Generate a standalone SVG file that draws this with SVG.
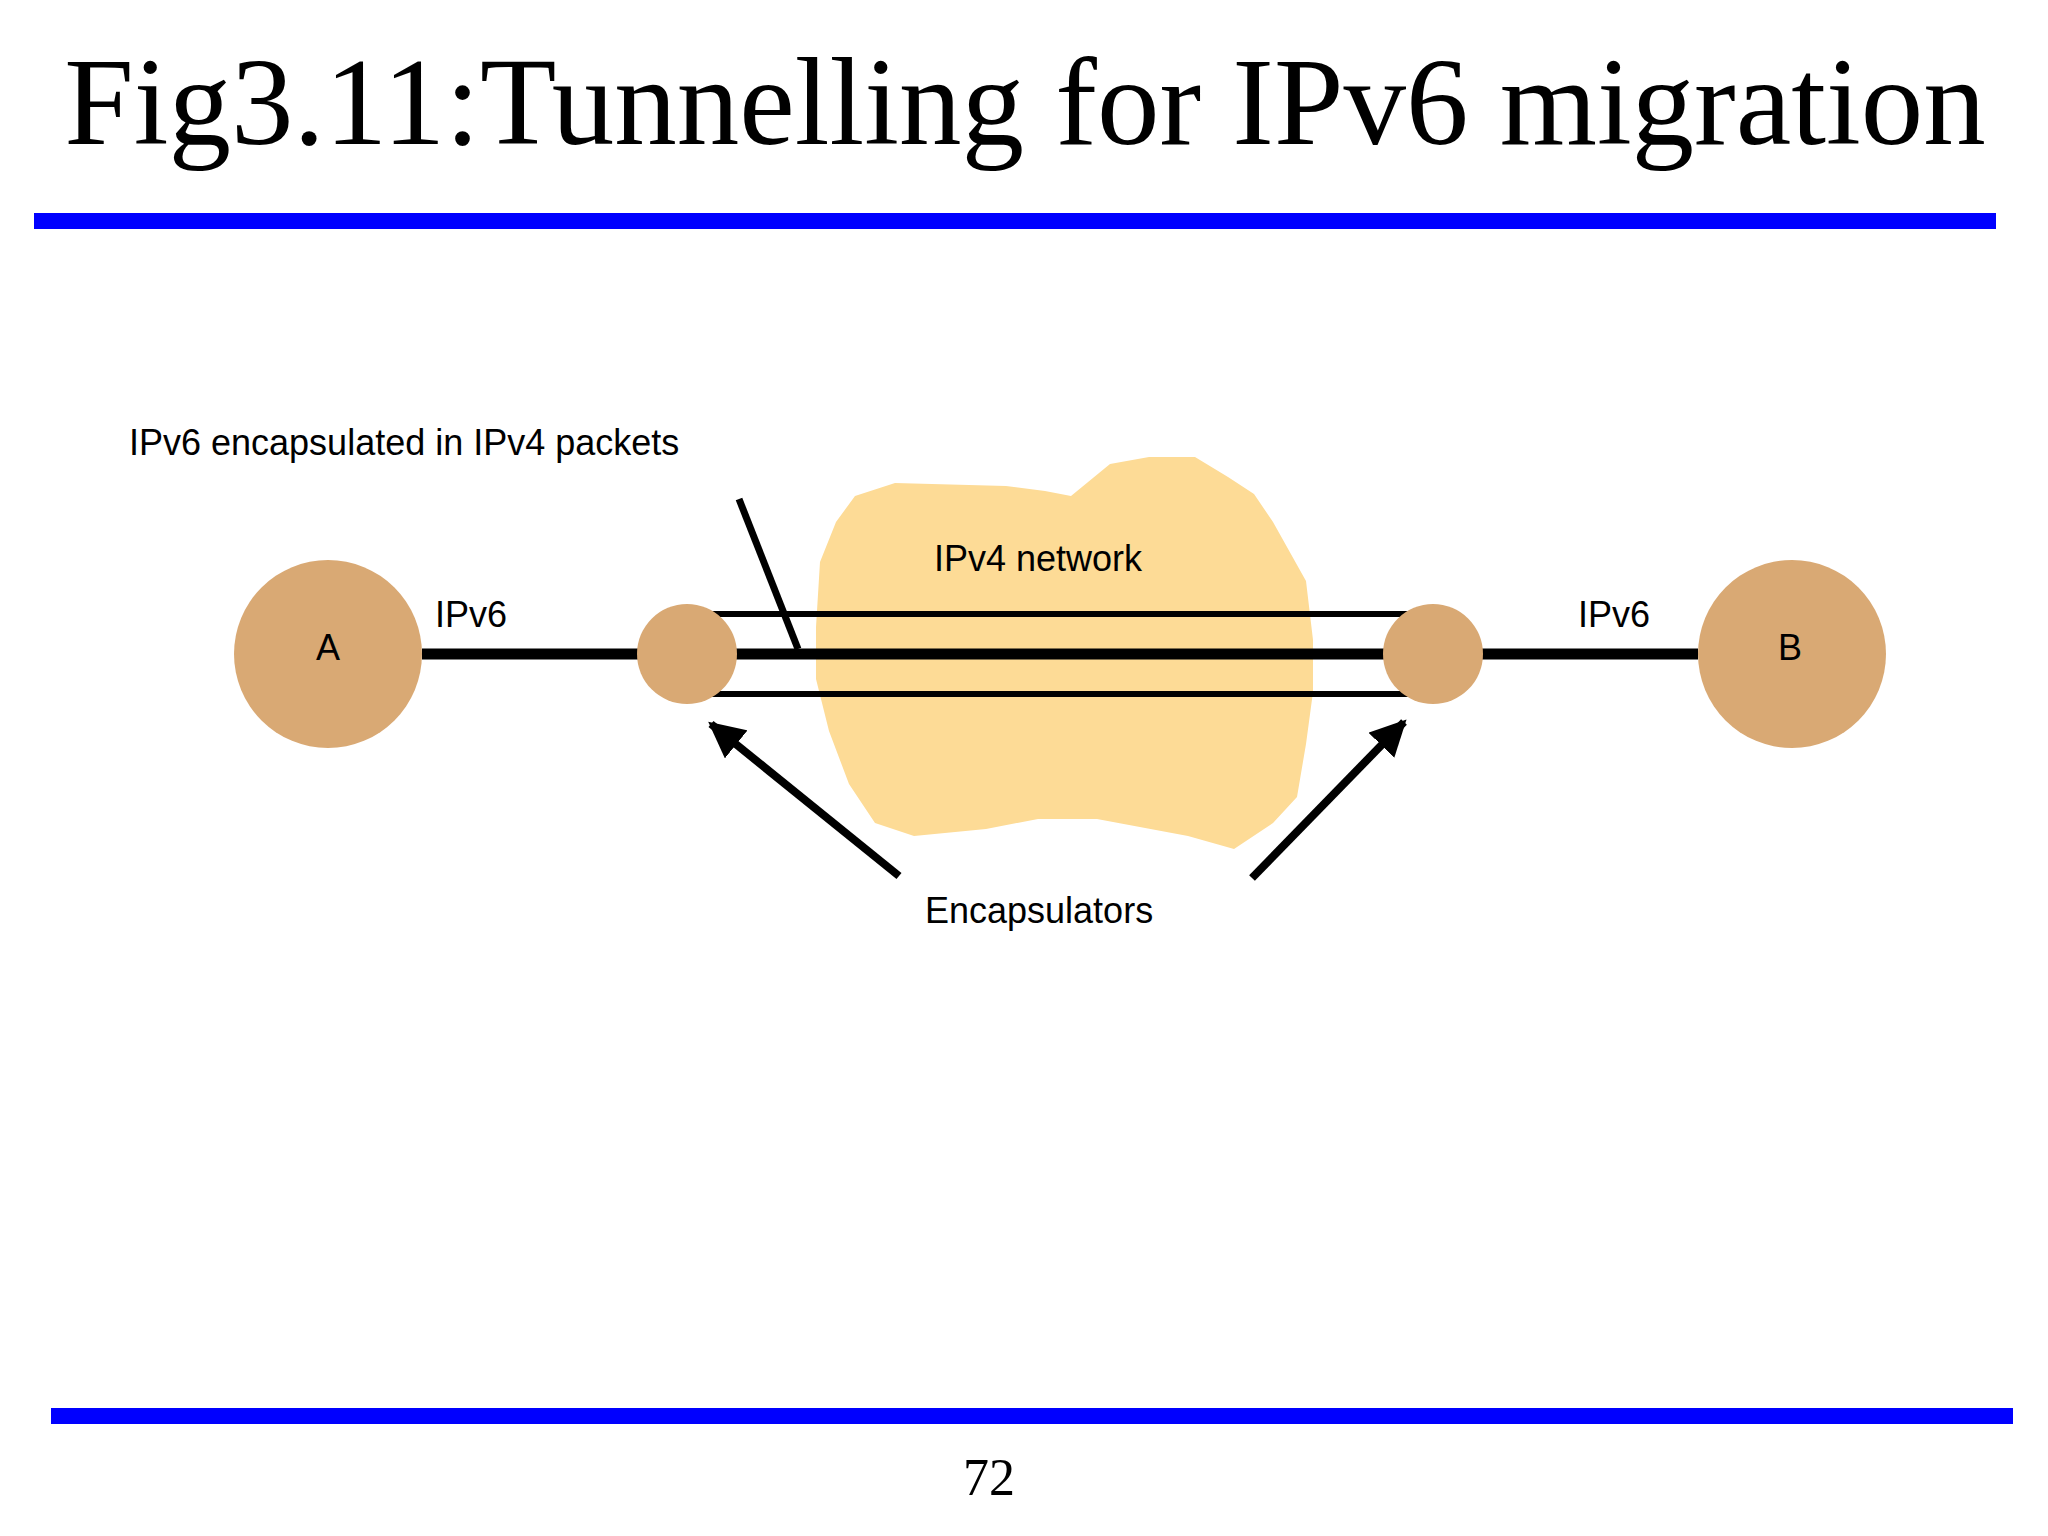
<svg xmlns="http://www.w3.org/2000/svg" width="2048" height="1536" viewBox="0 0 2048 1536">
<style>
.t{font-family:"Liberation Sans",Arial,sans-serif;font-size:36px;fill:#000}
.node{fill:#D9A974}
.ln{stroke:#000;fill:none}
</style>
<defs>
<marker id="ah" viewBox="0 0 10 10" refX="9" refY="5" markerWidth="4.5" markerHeight="4.5" orient="auto" markerUnits="strokeWidth">
<path d="M0,0 L10,5 L0,10 z" fill="#000"/>
</marker>
</defs>
<rect width="2048" height="1536" fill="#fff"/>
<text x="1025" y="144" text-anchor="middle" font-family="Liberation Serif,serif" font-size="125">Fig3.11:Tunnelling for IPv6 migration</text>
<rect x="34" y="213" width="1962" height="16" fill="#0000FF"/>
<rect x="51" y="1408" width="1962" height="16" fill="#0000FF"/>
<text x="989" y="1495" text-anchor="middle" font-family="Liberation Serif,serif" font-size="52">72</text>
<g id="cloud">
<polygon fill="#FDDB96" points="855,496 895,483 1006,486 1045,491 1071,496 1110,464 1149,457 1195,457 1228,477 1254,494 1273,522 1306,581 1313,640 1313,692 1306,744 1297,797 1273,823 1234,849 1188,836 1097,819 1038,819 986,829 914,836 875,823 849,784 829,731 816,679 816,627 820,562 836,522"/>
<text class="t" x="934" y="571">IPv4 network</text>
</g>
<g id="connectors">
<line class="ln" x1="422" y1="654" x2="1698" y2="654" stroke-width="11"/>
<line class="ln" x1="705" y1="614" x2="1408" y2="614" stroke-width="6"/>
<line class="ln" x1="712" y1="694" x2="1408" y2="694" stroke-width="6"/>
<line class="ln" x1="739" y1="499" x2="798" y2="649" stroke-width="7"/>
<line class="ln" x1="899" y1="876" x2="711" y2="724" stroke-width="8" marker-end="url(#ah)"/>
<line class="ln" x1="1252" y1="878" x2="1404" y2="722" stroke-width="8" marker-end="url(#ah)"/>
<text class="t" x="435" y="627">IPv6</text>
<text class="t" x="1578" y="627">IPv6</text>
</g>
<g id="A"><circle class="node" cx="328" cy="654" r="94"/><text class="t" x="328" y="660" text-anchor="middle">A</text></g>
<g id="B"><circle class="node" cx="1792" cy="654" r="94"/><text class="t" x="1790" y="660" text-anchor="middle">B</text></g>
<g id="E1"><circle class="node" cx="687" cy="654" r="50"/></g>
<g id="E2"><circle class="node" cx="1433" cy="654" r="50"/></g>
<g id="labels">
<text class="t" x="129" y="455">IPv6 encapsulated in IPv4 packets</text>
<text class="t" x="925" y="923">Encapsulators</text>
</g>
</svg>
